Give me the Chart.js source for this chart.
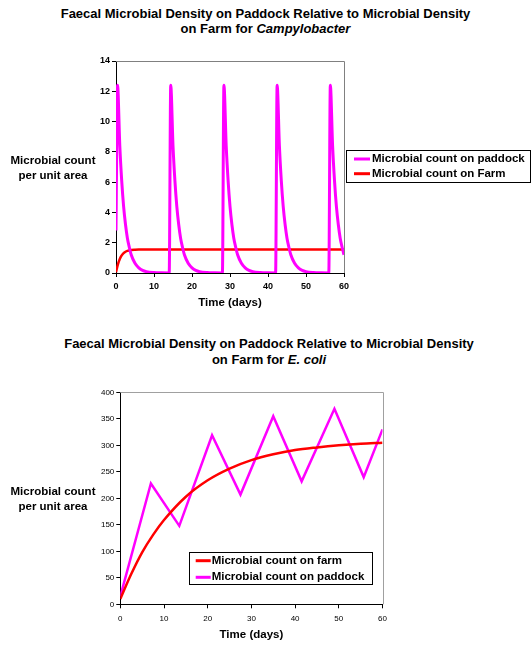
<!DOCTYPE html>
<html>
<head>
<meta charset="utf-8">
<script src="https://cdn.jsdelivr.net/npm/chart.js@4.4.1/dist/chart.umd.min.js"></script>
<style>
  body { margin: 0; background: #fff; font-family: "Liberation Sans", Arial, sans-serif; }
  #page { position: relative; width: 531px; height: 646px; }
  canvas { position: absolute; left: 0; }
  .title { position: absolute; left: 0; width: 538px; text-align: center; font-weight: bold; font-size: 13px; color: #000; }
  .ylab { position: absolute; left: 0; width: 106px; text-align: center; font-weight: bold; font-size: 11.5px; line-height: 15px; color: #000; }
</style>
</head>
<body>
<div id="page">
  <div class="title" style="top:6px; line-height:15px; width:531px;">Faecal Microbial Density on Paddock Relative to Microbial Density<br>on Farm for <i>Campylobacter</i></div>
  <canvas id="campy" width="531" height="320" style="top:0"></canvas>
  <div class="ylab" style="top:153px;">Microbial count<br>per unit area</div>

  <div class="title" style="top:336px; line-height:16px;">Faecal Microbial Density on Paddock Relative to Microbial Density<br>on Farm for <i>E. coli</i></div>
  <canvas id="ecoli" width="531" height="326" style="top:320px"></canvas>
  <div class="ylab" style="top:484px;">Microbial count<br>per unit area</div>
</div>
<script>
// Campylobacter - paddock (spikes every 14 days, then decay)
const campyDays = [0, 0.4, 1, 1.5, 2, 2.5, 3, 3.5, 4, 5, 6, 7, 8, 10, 12, 14,
    14.4, 15, 15.5, 16, 16.5, 17, 17.5, 18, 19, 20, 21, 22, 24, 26, 28,
    28.4, 29, 29.5, 30, 30.5, 31, 31.5, 32, 33, 34, 35, 36, 38, 40, 42,
    42.4, 43, 43.5, 44, 44.5, 45, 45.5, 46, 47, 48, 49, 50, 52, 54, 56,
    56.4, 57, 57.5, 58, 58.5, 59, 59.5, 60];
const campyPaddock = [2.8, 12.4, 8.4, 6.1, 4.4, 3.2, 2.3, 1.7, 1.2, 0.64, 0.34, 0.17, 0.09, 0.03, 0.01, 0,
    12.4, 8.4, 6.1, 4.4, 3.2, 2.3, 1.7, 1.2, 0.64, 0.34, 0.17, 0.09, 0.03, 0.01, 0,
    12.4, 8.4, 6.1, 4.4, 3.2, 2.3, 1.7, 1.2, 0.64, 0.34, 0.17, 0.09, 0.03, 0.01, 0,
    12.4, 8.4, 6.1, 4.4, 3.2, 2.3, 1.7, 1.2, 0.64, 0.34, 0.17, 0.09, 0.03, 0.01, 0,
    12.4, 8.4, 6.1, 4.4, 3.2, 2.3, 1.7, 1.2];
// Campylobacter - farm
const campyFarmDays = [0, 0.5, 1, 1.5, 2, 2.5, 3, 4, 5, 6, 8, 60];
const campyFarm = [0.05, 0.57, 0.93, 1.16, 1.31, 1.40, 1.46, 1.52, 1.54, 1.55, 1.56, 1.56];

// E. coli - farm
const ecoliFarmDays = [0, 2.5, 5, 7.5, 10, 15, 20, 25, 30, 35, 40, 45, 50, 55, 60];
const ecoliFarm = [10, 57, 98, 131, 159, 203, 234, 256, 272, 283, 291, 296, 300, 303, 305];
// E. coli - paddock
const ecoliPaddockDays = [0, 7, 13.5, 21, 27.5, 35, 41.5, 49, 55.7, 60];
const ecoliPaddock = [15, 228, 148, 319, 207, 355, 232, 369, 240, 330];

const FONT = '"Liberation Sans", Arial, sans-serif';

function pts(xs, ys) {
    return xs.map((x, i) => ({ x: x, y: ys[i] }));
}

// grey border on top and right of the plot area
const frame = {
    id: 'frame',
    beforeDatasetsDraw(chart, args, o) {
        const ctx = chart.ctx, a = chart.chartArea;
        ctx.save();
        ctx.strokeStyle = o.color || '#888';
        ctx.lineWidth = 1;
        ctx.beginPath();
        ctx.moveTo(a.left, Math.round(a.top) + 0.5);
        ctx.lineTo(Math.round(a.right) + 0.5, Math.round(a.top) + 0.5);
        ctx.lineTo(Math.round(a.right) + 0.5, a.bottom);
        ctx.stroke();
        ctx.restore();
    }
};

// legend with a black box round it
const boxLegend = {
    id: 'boxLegend',
    afterDraw(chart, args, o) {
        const ctx = chart.ctx;
        ctx.save();
        ctx.strokeStyle = '#000';
        ctx.lineWidth = 1;
        ctx.strokeRect(Math.round(o.x) + 0.5, Math.round(o.y) + 0.5, o.w, o.h);
        ctx.font = 'bold 11.5px ' + FONT;
        ctx.textBaseline = 'middle';
        chart.data.datasets.forEach((ds, i) => {
            const y = o.y + o.row0 + i * o.rowH;
            ctx.strokeStyle = ds.borderColor;
            ctx.lineWidth = 3;
            ctx.beginPath();
            ctx.moveTo(o.x + o.s0, y);
            ctx.lineTo(o.x + o.s1, y);
            ctx.stroke();
            ctx.fillStyle = '#000';
            ctx.fillText(ds.label, o.x + o.tx, y);
        });
        ctx.restore();
    }
};

function axis(min, max, step, tickFont, pad, fit) {
    return {
        type: 'linear', min: min, max: max,
        ticks: { stepSize: step, padding: pad, color: '#000', font: tickFont },
        grid: { drawOnChartArea: false, tickLength: 4, color: '#000' },
        border: { color: '#000', width: 1 },
        afterFit: fit
    };
}

const xTitle = { display: true, text: 'Time (days)', color: '#000', padding: 0,
    font: { family: FONT, size: 11.5, weight: 'bold' } };

// top chart
const cx1 = axis(0, 60, 10, { family: FONT, size: 9, weight: 'bold' }, 4, s => { s.height = 37; });
cx1.title = xTitle;
new Chart(document.getElementById('campy'), {
    type: 'line',
    data: {
        datasets: [{
            label: 'Microbial count on paddock',
            data: pts(campyDays, campyPaddock),
            borderColor: '#ff00ff',
            borderWidth: 3,
            pointRadius: 0,
            cubicInterpolationMode: 'monotone'
        }, {
            label: 'Microbial count on Farm',
            data: pts(campyFarmDays, campyFarm),
            borderColor: '#ff0000',
            borderWidth: 2.5,
            pointRadius: 0,
            cubicInterpolationMode: 'monotone'
        }]
    },
    options: {
        responsive: false,
        animation: false,
        layout: { padding: { left: 0, right: 187, top: 61, bottom: 10 } },
        scales: {
            x: cx1,
            y: axis(0, 14, 2, { family: FONT, size: 9, weight: 'bold' }, 2, s => { s.width = 116; })
        },
        plugins: {
            legend: { display: false },
            tooltip: { enabled: false },
            frame: { color: '#808080' },
            boxLegend: { x: 346, y: 150, w: 184, h: 32, row0: 9, rowH: 14.7, s0: 8, s1: 24, tx: 26 }
        }
    },
    plugins: [frame, boxLegend]
});

// bottom chart
const cx2 = axis(0, 60, 10, { family: FONT, size: 8 }, 6, s => { s.height = 37.6; });
cx2.title = xTitle;
new Chart(document.getElementById('ecoli'), {
    type: 'line',
    data: {
        datasets: [{
            label: 'Microbial count on farm',
            data: pts(ecoliFarmDays, ecoliFarm),
            borderColor: '#ff0000',
            borderWidth: 2.5,
            pointRadius: 0,
            cubicInterpolationMode: 'monotone'
        }, {
            label: 'Microbial count on paddock',
            data: pts(ecoliPaddockDays, ecoliPaddock),
            borderColor: '#ff00ff',
            borderWidth: 2.5,
            pointRadius: 0,
            tension: 0
        }]
    },
    options: {
        responsive: false,
        animation: false,
        layout: { padding: { left: 0, right: 148.5, top: 72.3, bottom: 4.1 } },
        scales: {
            x: cx2,
            y: axis(0, 400, 50, { family: FONT, size: 8 }, 2, s => { s.width = 120.3; })
        },
        plugins: {
            legend: { display: false },
            tooltip: { enabled: false },
            frame: { color: '#a0a0a0' },
            boxLegend: { x: 189, y: 232.3, w: 183, h: 32, row0: 8.4, rowH: 16.6, s0: 6.7, s1: 21.7, tx: 22.7 }
        }
    },
    plugins: [frame, boxLegend]
});
</script>
</body>
</html>
